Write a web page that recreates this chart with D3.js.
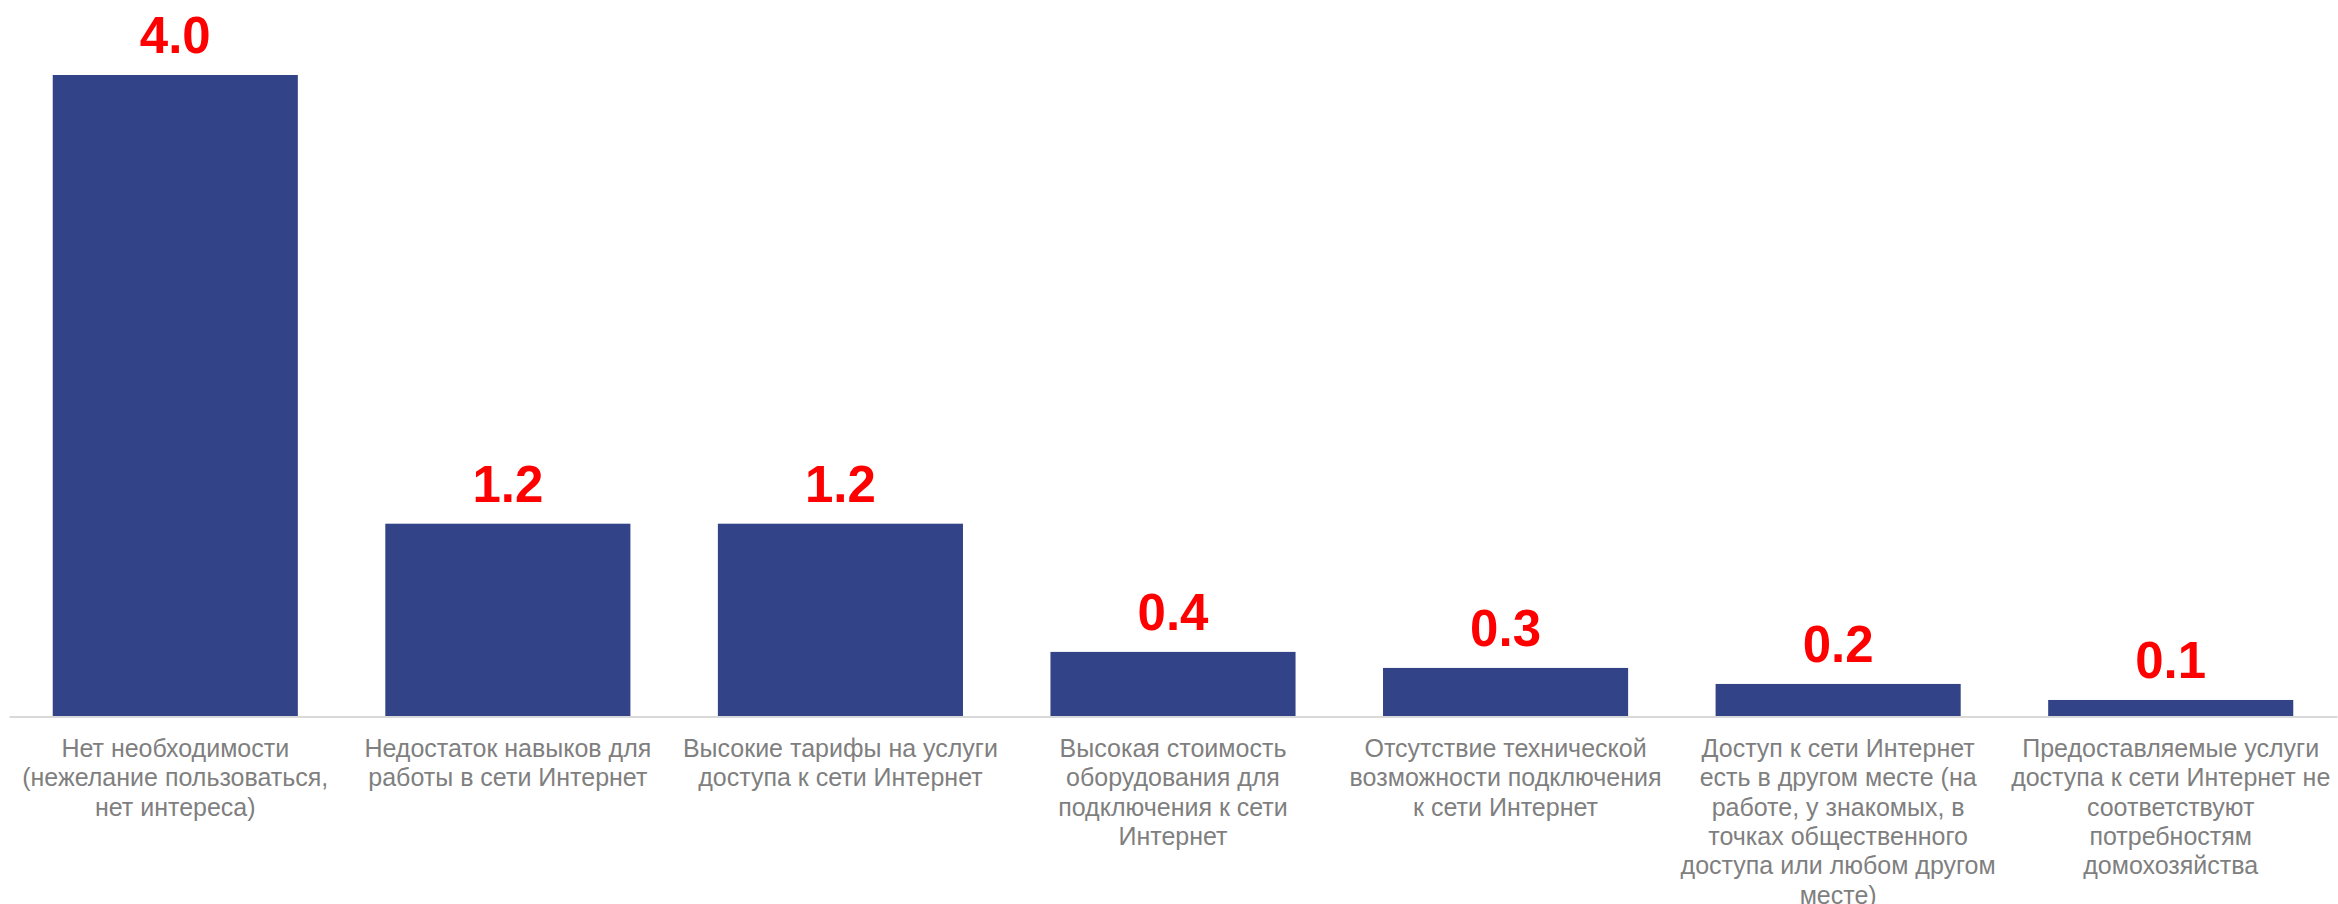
<!DOCTYPE html>
<html>
<head>
<meta charset="utf-8">
<script src="https://cdn.jsdelivr.net/npm/d3@7"></script>
<style>
  html, body { margin: 0; padding: 0; background: #fff; }
  svg { display: block; }
</style>
</head>
<body>
<svg id="chart" width="2338" height="904"></svg>
<script>
const categories = [
  "Нет необходимости\n(нежелание пользоваться,\nнет интереса)",
  "Недостаток навыков для\nработы в сети Интернет",
  "Высокие тарифы на услуги\nдоступа к сети Интернет",
  "Высокая стоимость\nоборудования для\nподключения к сети\nИнтернет",
  "Отсутствие технической\nвозможности подключения\nк сети Интернет",
  "Доступ к сети Интернет\nесть в другом месте (на\nработе, у знакомых, в\nточках общественного\nдоступа или любом другом\nместе)",
  "Предоставляемые услуги\nдоступа к сети Интернет не\nсоответствуют\nпотребностям\nдомохозяйства"
];
const values = [4.0, 1.2, 1.2, 0.4, 0.3, 0.2, 0.1];
const valueLabels = ["4.0", "1.2", "1.2", "0.4", "0.3", "0.2", "0.1"];

const svg = d3.select("#chart");
const baseY = 716;

const x = d3.scaleBand()
  .domain(categories)
  .range([9, 2337])
  .paddingInner(0.263)
  .paddingOuter(0.1315);

const y = d3.scaleLinear()
  .domain([0, 4.0])
  .range([baseY, 75]);

// bars
svg.append("g").selectAll("rect")
  .data(values)
  .join("rect")
  .attr("x", (d, i) => x(categories[i]))
  .attr("y", d => y(d))
  .attr("width", x.bandwidth())
  .attr("height", d => baseY - y(d))
  .attr("fill", "#334388");

// axis line
const axis = svg.append("g")
  .attr("transform", `translate(0,${baseY + 0.5})`)
  .call(d3.axisBottom(x).tickSize(0).tickSizeOuter(0).tickFormat(""));
axis.select(".domain").attr("stroke", "#d9d9d9").attr("stroke-width", 2);
axis.selectAll(".tick").remove();

// value labels
svg.append("g").selectAll("text")
  .data(values)
  .join("text")
  .attr("x", (d, i) => x(categories[i]) + x.bandwidth() / 2)
  .attr("y", d => y(d) - 22)
  .attr("text-anchor", "middle")
  .attr("font-family", "'Liberation Sans', Arial, sans-serif")
  .attr("font-weight", "bold")
  .attr("font-size", 51)
  .attr("fill", "#ff0000")
  .text((d, i) => valueLabels[i]);

// category labels
const lab = svg.append("g").selectAll("text")
  .data(categories)
  .join("text")
  .attr("x", d => x(d) + x.bandwidth() / 2)
  .attr("y", 757)
  .attr("text-anchor", "middle")
  .attr("font-family", "'Liberation Sans', Arial, sans-serif")
  .attr("font-size", 25)
  .attr("fill", "#7f7f7f");
lab.each(function(d) {
  const t = d3.select(this);
  const cx = x(d) + x.bandwidth() / 2;
  d.split("\n").forEach((line, j) => {
    t.append("tspan")
      .attr("x", cx)
      .attr("dy", j === 0 ? 0 : 29.3)
      .text(line);
  });
});
</script>
</body>
</html>
